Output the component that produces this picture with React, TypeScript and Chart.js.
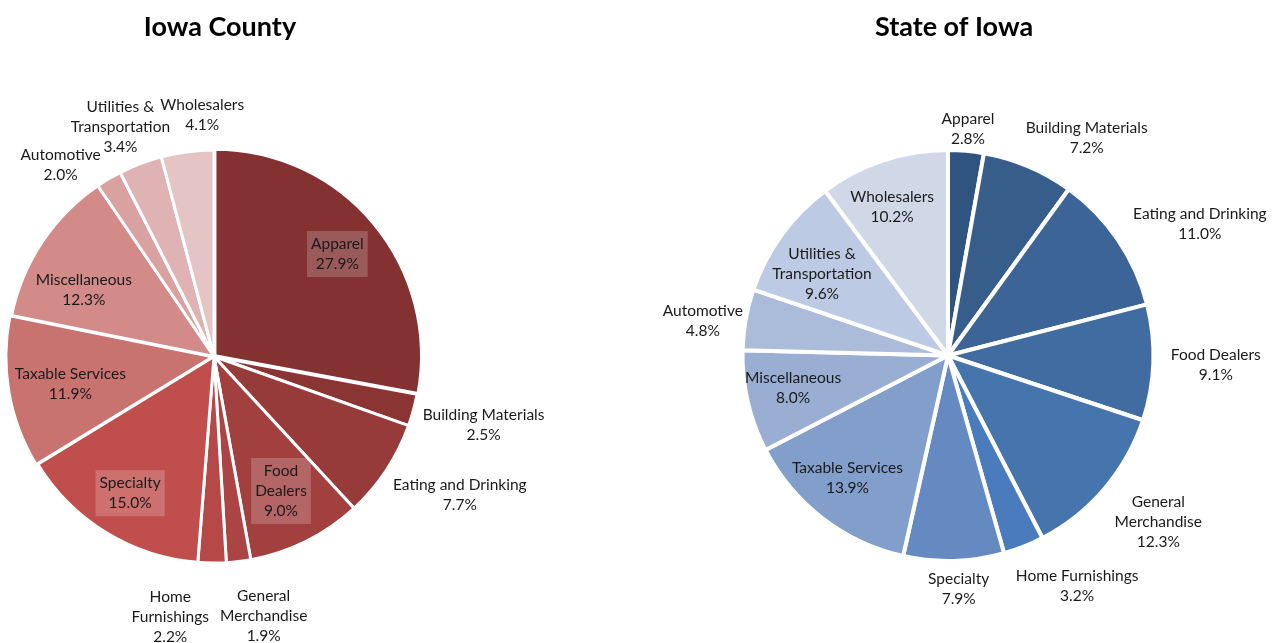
import React, { useEffect, useRef } from "react";
import { Chart, registerables } from "chart.js";

Chart.register(...registerables);

const categories = [
  "Apparel",
  "Building Materials",
  "Eating and Drinking",
  "Food Dealers",
  "General Merchandise",
  "Home Furnishings",
  "Specialty",
  "Taxable Services",
  "Miscellaneous",
  "Automotive",
  "Utilities & Transportation",
  "Wholesalers",
];

const countyValues = [27.9, 2.5, 7.7, 9.0, 1.9, 2.2, 15.0, 11.9, 12.3, 2.0, 3.4, 4.1];
const stateValues = [2.8, 7.2, 11.0, 9.1, 12.3, 3.2, 7.9, 13.9, 8.0, 4.8, 9.6, 10.2];

const countyLabelLines = [
  ["Apparel"],
  ["Building Materials"],
  ["Eating and Drinking"],
  ["Food", "Dealers"],
  ["General", "Merchandise"],
  ["Home", "Furnishings"],
  ["Specialty"],
  ["Taxable Services"],
  ["Miscellaneous"],
  ["Automotive"],
  ["Utilities &", "Transportation"],
  ["Wholesalers"],
];

const stateLabelLines = [
  ["Apparel"],
  ["Building Materials"],
  ["Eating and Drinking"],
  ["Food Dealers"],
  ["General", "Merchandise"],
  ["Home Furnishings"],
  ["Specialty"],
  ["Taxable Services"],
  ["Miscellaneous"],
  ["Automotive"],
  ["Utilities &", "Transportation"],
  ["Wholesalers"],
];

const countyColors = [
  "#833131", "#8b3434", "#973a3a", "#a23f3f", "#ad4444", "#b64848",
  "#c04e4c", "#c97370", "#d28b89", "#d9a2a1", "#dfb3b3", "#e4c4c5",
];
const stateColors = [
  "#2f5480", "#375d8b", "#3c6497", "#406ca2", "#4675ae", "#4a7bbc",
  "#648ac1", "#819fca", "#99aed2", "#abbcdb", "#bdcae3", "#d0d8e8",
];

// label placement: [radius factor, angle tweak (deg), boxed]
const countyLabelPlace: [number, number, boolean][] = [
  [0.79, 0, true], [1.37, -0.8, false], [1.39, -4, false], [0.74, 0, true],
  [1.3, -4, false], [1.3, 9, false], [0.79, 0, true], [0.72, -0.7, false],
  [0.72, -6.6, false], [1.21, -8, false], [1.22, -1.3, false], [1.19, 4.6, false],
];
const stateLabelPlace: [number, number, boolean][] = [
  [1.12, 0, false], [1.27, 9.5, false], [1.4, 6.6, false], [1.32, 0, false],
  [1.32, -2.2, false], [1.3, -7.7, false], [1.15, -1, false], [0.78, 1.8, false],
  [0.78, 1, false], [1.22, -2, false], [0.74, -3, false], [0.78, -2.3, false],
];

const countyOffsets = [5, 0, 0, 0, 0, 0, 0, 5, 0, 0, 0, 0];
const stateOffsets = [0, 0, 0, 0, 0, 0, 0, 0, 0, 0, 0, 0];

const FONT = "Lato, 'Open Sans', sans-serif";

function makeLabelPlugin(lines: string[][], place: [number, number, boolean][], values: number[], title: string) {
  return {
    id: "customLabels",
    afterDatasetsDraw(chart: any) {
      const ctx = chart.ctx;
      const meta = chart.getDatasetMeta(0);
      ctx.save();
      ctx.font = `15.5px ${FONT}`;
      ctx.textAlign = "center";
      ctx.textBaseline = "middle";
      const lh = 20;
      const r = 203;
      meta.data.forEach((arc: any, i: number) => {
        const p = arc.getProps(["x", "y", "startAngle", "endAngle", "outerRadius"], true);
        const [f, dDeg, boxed] = place[i];
        const mid = (p.startAngle + p.endAngle) / 2 + (dDeg * Math.PI) / 180;
        const cx = p.x + Math.cos(mid) * r * f;
        const cy = p.y + Math.sin(mid) * r * f;
        const all = [...lines[i], values[i].toFixed(1) + "%"];
        const h = all.length * lh;
        if (boxed) {
          let w = 0;
          all.forEach((t) => (w = Math.max(w, ctx.measureText(t).width)));
          ctx.fillStyle = "rgba(255,255,255,0.2)";
          ctx.fillRect(cx - w / 2 - 4, cy - h / 2 - 3, w + 8, h + 6);
        }
        ctx.fillStyle = "#1a1a1a";
        all.forEach((t, k) => {
          ctx.fillText(t, cx, cy - h / 2 + lh / 2 + k * lh);
        });
      });
      // title
      const ca = chart.chartArea;
      ctx.font = `bold 27px ${FONT}`;
      ctx.fillStyle = "#000";
      ctx.fillText(title, (ca.left + ca.right) / 2 + 6, 27);
      ctx.restore();
    },
  };
}

function PieChart(props: {
  values: number[];
  colors: string[];
  lines: string[][];
  place: [number, number, boolean][];
  offsets: number[];
  title: string;
  padding: { left: number; right: number; top: number; bottom: number };
  border: number;
  left: number;
  width: number;
}) {
  const ref = useRef<HTMLCanvasElement>(null);
  useEffect(() => {
    if (!ref.current) return;
    const chart = new Chart(ref.current, {
      type: "pie",
      data: {
        labels: categories,
        datasets: [
          {
            data: props.values,
            backgroundColor: props.colors,
            borderColor: "#ffffff",
            borderWidth: props.border,
            offset: props.offsets,
          },
        ],
      },
      options: {
        animation: false,
        responsive: false,
        maintainAspectRatio: false,
        layout: { padding: props.padding },
        plugins: {
          legend: { display: false },
          tooltip: { enabled: false },
          title: { display: false },
        },
      },
      plugins: [makeLabelPlugin(props.lines, props.place, props.values, props.title)],
    });
    return () => chart.destroy();
  }, []);
  return (
    <canvas
      ref={ref}
      width={props.width}
      height={643}
      style={{ position: "absolute", left: props.left, top: 0, width: props.width, height: 643 }}
    />
  );
}

export default function App() {
  return (
    <div style={{ position: "absolute", left: 0, top: 0, width: 1275, height: 643, background: "#fff" }}>
      <PieChart
        values={countyValues}
        colors={countyColors}
        lines={countyLabelLines}
        place={countyLabelPlace}
        offsets={countyOffsets}
        title="Iowa County"
        padding={{ left: 3, right: 212, top: 146, bottom: 76 }}
        border={3}
        left={0}
        width={637}
      />
      <PieChart
        values={stateValues}
        colors={stateColors}
        lines={stateLabelLines}
        place={stateLabelPlace}
        offsets={stateOffsets}
        title="State of Iowa"
        padding={{ left: 101, right: 117, top: 148, bottom: 80 }}
        border={4}
        left={637}
        width={638}
      />
    </div>
  );
}
